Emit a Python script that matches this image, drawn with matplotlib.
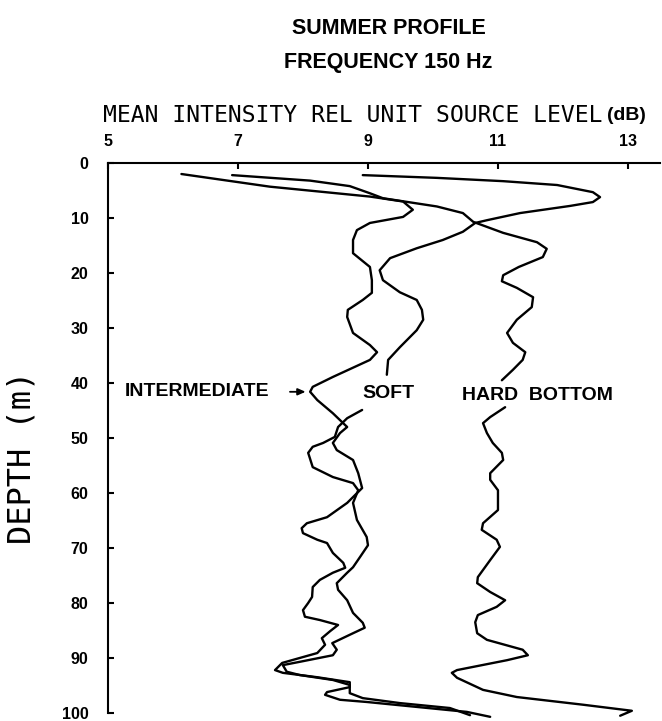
import numpy as np
import matplotlib
matplotlib.use("Agg")
import matplotlib.pyplot as plt

# values: intensity (dB) vs depth (m)
inter_db = [6.13, 7.49, 9.03, 9.54, 9.69, 9.54, 9.03, 8.83, 8.77, 8.77,
            9.03, 9.06, 9.06, 8.92, 8.69, 8.68, 8.77, 9.03, 9.14, 9.03,
            8.46, 8.15, 8.11, 8.22, 8.46, 8.68, 8.57, 8.46, 8.52, 8.77,
            8.85, 8.91, 8.68, 8.37, 8.06, 7.98, 8.0, 8.22, 8.37, 8.46,
            8.62, 8.65, 8.46, 8.26, 8.15, 8.14, 8.08, 8.0, 8.03, 8.26,
            8.54, 8.42, 8.29, 8.34, 8.22, 7.95, 7.68, 7.57, 7.69, 8.22,
            8.72, 8.72, 8.37, 8.34, 8.57, 8.98, 9.75, 10.52, 10.88]
inter_depth = [2.0, 4.3, 6.1, 7.0, 8.5, 9.8, 10.9, 12.2, 14.0, 16.4,
               18.9, 21.3, 23.6, 24.9, 26.7, 28.0, 30.9, 33.1, 34.4, 35.8,
               38.9, 40.7, 41.6, 43.1, 45.5, 48.0, 49.1, 50.9, 52.2, 54.0,
               56.4, 59.1, 61.8, 64.4, 65.5, 66.4, 67.3, 68.5, 69.1, 70.9,
               72.7, 73.6, 74.5, 75.8, 77.1, 78.9, 80.0, 81.3, 82.5, 83.1,
               84.0, 85.1, 86.4, 87.6, 89.1, 90.0, 90.9, 92.2, 92.7, 93.5,
               94.4, 95.3, 96.2, 96.7, 97.6, 98.0, 98.9, 99.8, 100.7]

soft_db = [8.92, 10.06, 11.08, 11.91, 12.46, 12.57, 12.46, 12.11, 11.34, 10.83,
           10.65, 10.46, 10.15, 9.75, 9.34, 9.18, 9.23, 9.49, 9.75, 9.83,
           9.85, 9.75, 9.49, 9.31, 9.29, np.nan, 8.91, 8.68, 8.54, 8.49, 8.31,
           8.15, 8.08, 8.15, 8.46, 8.77, 8.85, 8.77, 8.83, 8.98, 9.0,
           8.88, 8.77, 8.68, 8.52, 8.54, 8.68, 8.77, 8.92, 8.95, 8.77,
           8.45, 8.52, 8.46, 7.95, 7.69, 7.75, 7.95, 8.46, 8.72, 8.72,
           8.92, 9.49, 10.26, 10.57]
soft_depth = [2.2, 2.7, 3.3, 4.0, 5.3, 6.2, 7.1, 7.8, 9.1, 10.4,
              10.9, 12.5, 14.0, 15.5, 17.3, 19.5, 21.3, 23.5, 24.9, 26.7,
              28.5, 30.4, 33.5, 35.8, 38.5, np.nan, 44.9, 46.4, 48.0, 49.8, 50.9,
              51.6, 52.7, 55.3, 57.1, 58.2, 59.5, 61.8, 64.9, 68.0, 69.5,
              71.6, 73.5, 74.5, 76.4, 77.6, 79.5, 81.8, 83.6, 84.5, 85.5,
              87.3, 88.5, 89.5, 90.7, 91.3, 92.5, 93.1, 94.0, 94.9, 96.4,
              97.3, 98.2, 99.1, 100.4]

hard_db = [6.91, 8.11, 8.72, 9.03, 9.23, 10.06, 10.46, 10.62, 11.08, 11.6,
           11.75, 11.69, 11.32, 11.08, 11.06, 11.29, 11.54, 11.52, 11.29, 11.14,
           11.23, 11.42, 11.38, 11.23, 11.06, np.nan, 11.11, 10.88, 10.77, 10.83,
           10.92, 11.06, 11.08, 10.88, 10.88, 11.0, 11.0, 10.77, 10.75, 10.98,
           11.03, 10.88, 10.69, 10.68, 10.88, 11.11, 10.98, 10.69, 10.65, 10.68,
           10.83, 11.38, 11.46, 11.14, 10.37, 10.29, 10.37, 10.77, 11.29, 12.31,
           13.06, 12.88]
hard_depth = [2.2, 3.2, 4.2, 5.5, 6.4, 7.9, 9.1, 10.7, 12.7, 14.4,
              15.6, 17.1, 18.9, 20.4, 21.5, 22.7, 24.4, 26.2, 28.5, 30.9,
              32.7, 34.4, 35.8, 37.6, 39.5, np.nan, 44.4, 46.2, 47.3, 49.1,
              50.9, 52.7, 54.0, 56.4, 57.6, 59.5, 63.1, 65.5, 66.7, 68.5,
              69.8, 72.2, 75.3, 76.4, 78.0, 79.5, 80.7, 82.2, 83.5, 85.5,
              86.7, 88.5, 89.5, 90.4, 92.2, 92.7, 93.6, 95.8, 97.1, 98.5,
              99.6, 100.5]

x_ticks = [5, 7, 9, 11, 13]
y_ticks = [0, 10, 20, 30, 40, 50, 60, 70, 80, 90, 100]

fig = plt.figure(figsize=(6.62, 7.21), dpi=100)
ax = fig.add_axes([0.1631, 0.0035, 0.8346, 0.7704])

for xs, ys in [(inter_db, inter_depth), (soft_db, soft_depth), (hard_db, hard_depth)]:
    ax.plot(xs, ys, color='black', lw=1.7, solid_joinstyle='round',
            solid_capstyle='round', clip_on=False)

ax.set_xlim(5, 13.5)
ax.set_ylim(101, 0)
ax.xaxis.tick_top()
ax.set_xticks(x_ticks)
ax.set_yticks(y_ticks)
ax.spines['right'].set_visible(False)
ax.spines['bottom'].set_visible(False)
ax.spines['left'].set_bounds(0, 100)
for s in ['top', 'left']:
    ax.spines[s].set_linewidth(1.5)
ax.tick_params(direction='in', length=4, width=1.5)
ax.tick_params(axis='x', pad=10)
ax.tick_params(axis='y', pad=14)
for lab in ax.get_xticklabels() + ax.get_yticklabels():
    lab.set_fontfamily('Liberation Sans')
    lab.set_fontweight('bold')
    lab.set_fontsize(11.5)

# labels on the curves
lab_font = dict(family='Liberation Sans', fontweight='bold', fontsize=14, va='center')
ax.text(5.26, 41.5, 'INTERMEDIATE', ha='left', **lab_font)
ax.annotate('', xy=(8.04, 41.6), xytext=(7.8, 41.6),
            arrowprops=dict(arrowstyle='-|>,head_length=0.45,head_width=0.2',
                            color='black', lw=1.3, shrinkA=0, shrinkB=0))
ax.text(8.91, 41.9, 'SOFT', ha='left', **lab_font)
ax.text(10.45, 42.2, 'HARD  BOTTOM', ha='left', **lab_font)

# titles and axis labels
title_font = dict(family='Liberation Sans', fontweight='bold', fontsize=15.5,
                  ha='center', va='center')
fig.text(0.587, 0.961, 'SUMMER PROFILE', **title_font)
fig.text(0.587, 0.914, 'FREQUENCY 150 Hz', **title_font)
fig.text(0.156, 0.840, 'MEAN INTENSITY REL UNIT SOURCE LEVEL', ha='left', va='center',
         family='DejaVu Sans Mono', fontsize=16.6)
fig.text(0.917, 0.840, '(dB)', ha='left', va='center',
         family='Liberation Sans', fontweight='bold', fontsize=14)
fig.text(0.033, 0.366, 'DEPTH (m)', ha='center', va='center', rotation=90,
         family='DejaVu Sans Mono', fontsize=23)

fig.savefig('out.png', dpi=100)
